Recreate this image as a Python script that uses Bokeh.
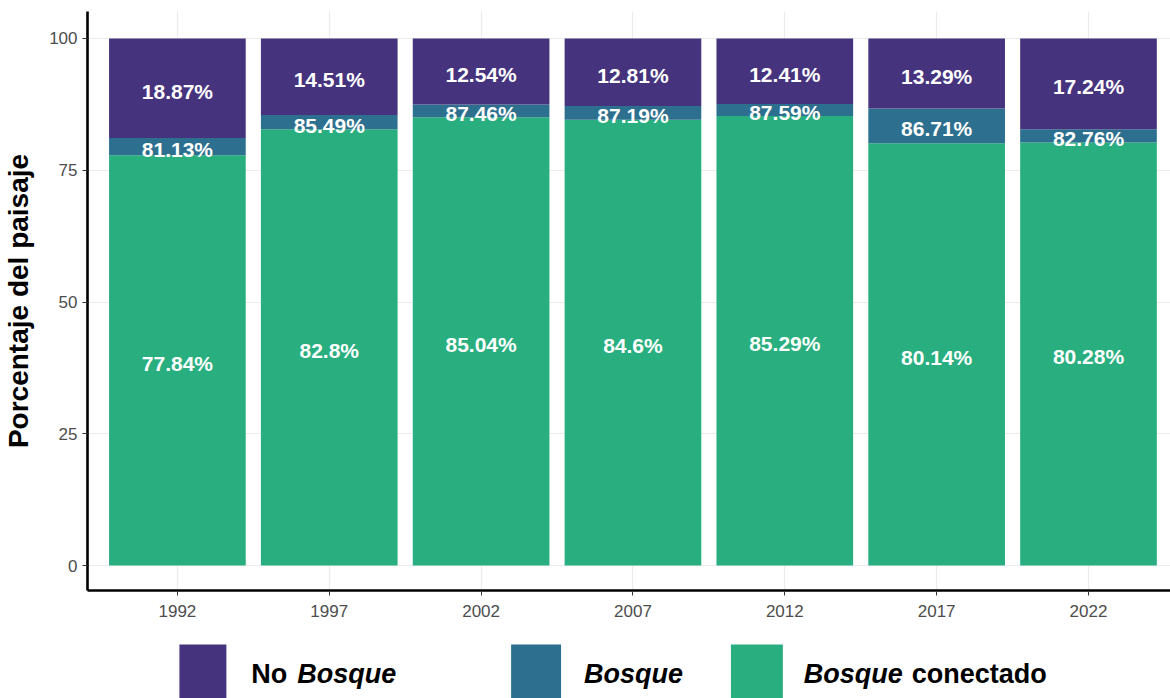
from bokeh.plotting import figure
from bokeh.models import Range1d, FixedTicker, ColumnDataSource
from bokeh.layouts import column
from bokeh.core.properties import value
from bokeh.embed import file_html
from bokeh.resources import INLINE

# Landscape composition per year (percent of landscape)
years = ["1992", "1997", "2002", "2007", "2012", "2017", "2022"]
bosque_conectado = [77.84, 82.8, 85.04, 84.6, 85.29, 80.14, 80.28]
bosque_total = [81.13, 85.49, 87.46, 87.19, 87.59, 86.71, 82.76]
no_bosque = [18.87, 14.51, 12.54, 12.81, 12.41, 13.29, 17.24]
y_ticks = [0, 25, 50, 75, 100]

C_NO = "#46337E"
C_BOSQUE = "#2D6F8E"
C_CONEC = "#29AF7F"
FONT = "Liberation Sans"

xs = list(range(len(years)))
pct = lambda v: f"{v:g}%"

src = ColumnDataSource(dict(
    x=xs,
    conec_top=bosque_conectado,
    bosque_top=bosque_total,
    no_top=[t + n for t, n in zip(bosque_total, no_bosque)],
    conec_mid=[c / 2 for c in bosque_conectado],
    bosque_mid=[(c + t) / 2 for c, t in zip(bosque_conectado, bosque_total)],
    no_mid=[t + n / 2 for t, n in zip(bosque_total, no_bosque)],
    conec_lab=[pct(v) for v in bosque_conectado],
    bosque_lab=[pct(v) for v in bosque_total],
    no_lab=[pct(v) for v in no_bosque],
))

p = figure(width=1170, height=630, output_backend="svg", toolbar_location=None,
           x_range=Range1d(-0.592, 6.54), y_range=Range1d(-4.74, 105.12),
           min_border_left=86, min_border_right=0, min_border_top=11,
           min_border_bottom=40)
p.outline_line_color = None
p.background_fill_color = "white"

bw = 0.9
p.vbar(x="x", bottom=0, top="conec_top", width=bw, source=src,
       fill_color=C_CONEC, line_color=None)
p.vbar(x="x", bottom="conec_top", top="bosque_top", width=bw, source=src,
       fill_color=C_BOSQUE, line_color=None)
p.vbar(x="x", bottom="bosque_top", top="no_top", width=bw, source=src,
       fill_color=C_NO, line_color=None)

for ycol, tcol in (("conec_mid", "conec_lab"), ("bosque_mid", "bosque_lab"),
                   ("no_mid", "no_lab")):
    p.text(x="x", y=ycol, text=tcol, source=src, text_align="center",
           text_baseline="middle", y_offset=3, text_color="white",
           text_font=value(FONT), text_font_style="bold",
           text_font_size="21px")

# grid
p.xgrid.ticker = FixedTicker(ticks=xs)
p.ygrid.ticker = FixedTicker(ticks=y_ticks)
p.grid.grid_line_color = "#EBEBEB"
p.grid.grid_line_width = 1.2
p.grid.level = "underlay"

# axes
p.xaxis.ticker = FixedTicker(ticks=xs)
p.xaxis.major_label_overrides = {i: y for i, y in enumerate(years)}
p.yaxis.ticker = FixedTicker(ticks=y_ticks)
for ax in (p.xaxis[0], p.yaxis[0]):
    ax.axis_line_color = "black"
    ax.axis_line_width = 2.6
    ax.major_tick_line_color = "#333333"
    ax.major_tick_out = 5
    ax.major_tick_in = 0
    ax.minor_tick_line_color = None
    ax.major_label_text_color = "#4D4D4D"
    ax.major_label_text_font = FONT
    ax.major_label_text_font_size = "17px"
p.xaxis.major_label_standoff = 9
p.yaxis.major_label_standoff = 5
p.yaxis.axis_label = "Porcentaje del paisaje"
p.yaxis.axis_label_text_font = FONT
p.yaxis.axis_label_text_font_style = "bold"
p.yaxis.axis_label_text_font_size = "28px"
p.yaxis.axis_label_text_color = "black"
p.yaxis.axis_label_standoff = 12

# legend strip drawn below the plot; its frame lines up with the plot frame
# (x from 86 px to 1170 px), so the x range is expressed in page pixels
lg = figure(width=1170, height=68, output_backend="svg", toolbar_location=None,
            x_range=Range1d(86, 1170), y_range=Range1d(0, 68),
            x_axis_location=None, y_axis_location=None,
            min_border=0, min_border_left=86, min_border_right=0,
            min_border_top=0, min_border_bottom=0)
lg.grid.visible = False
lg.outline_line_color = None

lg.quad(left=[178, 510, 730], right=[225, 560, 782], bottom=[-10] * 3,
        top=[54] * 3, fill_color=[C_NO, C_BOSQUE, C_CONEC], line_color=None)

legend_parts = [
    (250, "No", "bold"),
    (296, "Bosque", "bold italic"),
    (583, "Bosque", "bold italic"),
    (803, "Bosque", "bold italic"),
    (911, "conectado", "bold"),
]
for xpos, txt, style in legend_parts:
    lg.text(x=[xpos], y=[25], text=[txt], text_align="left",
            text_baseline="alphabetic", text_color="black",
            text_font=value(FONT), text_font_style=style,
            text_font_size="27px")

layout = column(p, lg, spacing=0)
open("out.html", "w").write(file_html(layout, INLINE))
